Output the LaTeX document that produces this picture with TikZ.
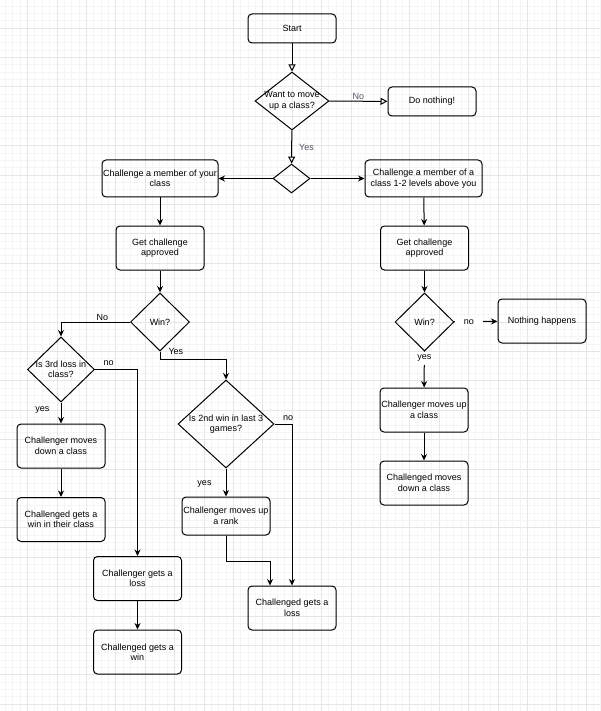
\documentclass[tikz,border=0pt]{standalone}
\usepackage{fontspec}
\setmainfont{Liberation Sans}
\usepackage{xcolor}
\usetikzlibrary{positioning,shapes.geometric,arrows.meta}

\definecolor{gridmin}{HTML}{F5F5F5}
\definecolor{gridmaj}{HTML}{E6E6E6}
\definecolor{lblgray}{HTML}{555566}

\tikzset{
  box/.style={draw, rounded corners=4pt, line width=1pt, align=center, minimum width=88pt, minimum height=44pt, inner sep=1pt},
  dec/.style={draw, diamond, line width=1pt, inner sep=0pt},
  arr/.style={-{Stealth[length=6.5pt,width=6pt]}, line width=1pt},
  oarr/.style={-{Triangle[open,length=7pt,width=7pt]}, line width=1pt},
  lbl/.style={inner sep=1pt},
}

\begin{document}
\begin{tikzpicture}[x=1pt, y=-1pt, font=\fontsize{9}{10.5}\selectfont]
	\useasboundingbox (0,0) rectangle (600,711);
	\fill[white] (0,0) rectangle (600,711);
	% background grid
	\foreach \i in {0,...,82} \draw[gridmin, line width=0.8pt] ({-1.9+7.35*\i},0) -- ({-1.9+7.35*\i},711);
	\foreach \i in {0,...,97} \draw[gridmin, line width=0.8pt] (0,{-1.4+7.35*\i}) -- (600,{-1.4+7.35*\i});
	\foreach \i in {0,...,21} \draw[gridmaj, line width=0.8pt] ({-1.9+29.4*\i},0) -- ({-1.9+29.4*\i},711);
	\foreach \i in {0,...,25} \draw[gridmaj, line width=0.8pt] (0,{-1.4+29.4*\i}) -- (600,{-1.4+29.4*\i});

	% top part
	\node[box, minimum height=29pt] (start) at (292,28.5) {Start};
	\node[dec, minimum width=74pt, minimum height=58pt, label={[align=center]center:Want to move\\up a class?}] (want) at (292,101) {};
	\node[box, minimum height=29pt] (nothing) at (432,101.5) {Do nothing!};
	\node[dec, minimum width=37pt, minimum height=29pt] (split) at (291.5,178.5) {};
	\node[box, minimum width=116pt, minimum height=37pt] (own) at (160,178.5) {Challenge a member of your\\class};
	\node[box, minimum width=117pt, minimum height=37pt] (above) at (423.5,178.5) {Challenge a member of a\\class 1-2 levels above you};

	% own class branch
	\node[box] (apprL) at (160,248) {Get challenge\\approved};
	\node[dec, minimum width=59pt, minimum height=58pt, label=center:Win?] (winL) at (160,322) {};
	\node[dec, minimum width=67pt, minimum height=65pt, label={[align=center]center:Is 3rd loss in\\class?}] (loss3) at (61,369.5) {};
	\node[dec, minimum width=96pt, minimum height=88pt, label={[align=center]center:Is 2nd win in last 3\\games?}] (win2) at (226,424) {};
	\node[box] (down) at (61,446) {Challenger moves\\down a class};
	\node[box] (gain) at (61,519.5) {Challenged gets a\\win in their class};
	\node[box] (lose) at (137.5,578.5) {Challenger gets a\\loss};
	\node[box] (gwin) at (137.5,652) {Challenged gets a\\win};
	\node[box, minimum height=38pt] (rank) at (226,516) {Challenger moves up\\a rank};
	\node[box] (gloss) at (292,608) {Challenged gets a\\loss};

	% higher class branch
	\node[box] (apprR) at (424.5,248) {Get challenge\\approved};
	\node[dec, minimum width=59pt, minimum height=58pt, label=center:Win?] (winR) at (424.5,322) {};
	\node[box] (happ) at (542,321) {Nothing happens};
	\node[box] (upcl) at (424,410) {Challenger moves up\\a class};
	\node[box] (dncl) at (424,483) {Challenged moves\\down a class};

	\draw[oarr] (start) -- (want);
	\draw[oarr] (want) -- node[above, lbl, text=lblgray] {No} (nothing);
	\draw[oarr] (want) -- node[right=6pt, lbl, text=lblgray] {Yes} (split);
	\draw[arr] (split) -- (own);
	\draw[arr] (split) -- (above);

	\draw[arr] (own) -- (apprL);
	\draw[arr] (apprL) -- (winL);
	\draw[arr] (winL.west) -| node[pos=0.2, above, lbl] {No} (loss3.north);
	\draw[arr] (winL.south) node[anchor=west, xshift=7pt, lbl] {Yes} -- ++(0,8) -| (win2.north);
	\draw[arr] (loss3) -- node[left=10pt, pos=0.35, lbl] {yes} (down);
	\draw[arr] (loss3.east) -| node[pos=0.16, above=2pt, lbl] {no} (lose.north);
	\draw[arr] (down) -- (gain);
	\draw[arr] (lose) -- (gwin);
	\draw[arr] (win2) -- node[left=13pt, pos=0.55, lbl] {yes} (rank);
	\draw[arr] (win2.east) -| node[pos=0.39, above=2pt, lbl] {no} (gloss.north);
	\draw[arr] (rank.south) -- ++(0,26) -| ([xshift=-22pt]gloss.north);

	\draw[arr] (above) -- (apprR);
	\draw[arr] (apprR) -- (winR);
	\draw[arr] (winR) -- node[pos=0.34, fill=white, inner xsep=9pt, inner ysep=2pt] {no} (happ);
	\draw[arr] (winR) -- node[pos=0.19, fill=white, inner xsep=2pt, inner ysep=3pt] {yes} (upcl);
	\draw[arr] (upcl) -- (dncl);
\end{tikzpicture}
\end{document}
